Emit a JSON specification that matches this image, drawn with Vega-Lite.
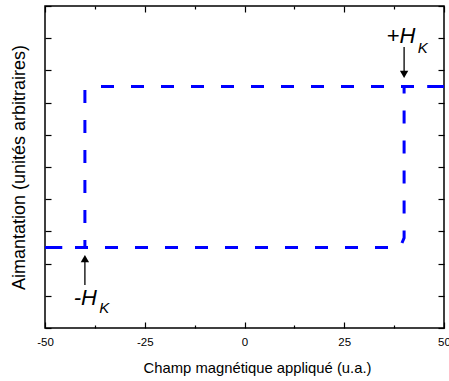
{
  "$schema": "https://vega.github.io/schema/vega-lite/v6.json",
  "width": 399,
  "height": 322,
  "autosize": {"type": "none"},
  "padding": {"left": 45, "top": 6, "right": 5, "bottom": 53},
  "background": "white",
  "config": {
    "view": {"stroke": "black", "strokeWidth": 1.5},
    "font": "Liberation Sans",
    "axis": {"grid": false, "domain": false, "tickColor": "black", "tickWidth": 1.2, "labelColor": "black", "titleColor": "black", "labelFont": "Liberation Sans", "titleFont": "Liberation Sans", "titleFontWeight": "normal"}
  },
  "datasets": {
    "loop": [
      {"branch": "descending", "order": 1, "H": 50, "M": 7.5},
      {"branch": "descending", "order": 2, "H": -37.5, "M": 7.5},
      {"branch": "descending", "order": 3, "H": -40, "M": 7.4},
      {"branch": "descending", "order": 4, "H": -40, "M": 2.5},
      {"branch": "descending", "order": 5, "H": -50, "M": 2.5},
      {"branch": "ascending", "order": 1, "H": -50, "M": 2.5},
      {"branch": "ascending", "order": 2, "H": 39, "M": 2.5},
      {"branch": "ascending", "order": 3, "H": 40, "M": 2.8},
      {"branch": "ascending", "order": 4, "H": 40, "M": 7.5},
      {"branch": "ascending", "order": 5, "H": 50, "M": 7.5}
    ],
    "arrows": [
      {"H": 40, "from": 8.73, "to": 7.95, "head": 7.875, "shape": "triangle-down"},
      {"H": -40, "from": 1.335, "to": 2.05, "head": 2.155, "shape": "triangle-up"}
    ],
    "main": [
      {"H": 35.6, "M": 8.85, "t": "+H"},
      {"H": -42.8, "M": 0.714, "t": "-H"}
    ],
    "sub": [
      {"H": 43.4, "M": 8.55, "t": "K"},
      {"H": -36.4, "M": 0.46, "t": "K"}
    ]
  },
  "resolve": {"axis": {"x": "independent", "y": "independent"}},
  "layer": [
    {
      "data": {"name": "loop"},
      "mark": {"type": "line", "color": "#0000ff", "strokeWidth": 3, "strokeDash": [13, 17], "strokeCap": "butt"},
      "encoding": {
        "x": {"field": "H", "type": "quantitative", "scale": {"domain": [-50, 50], "nice": false, "zero": false},
          "axis": {"orient": "bottom", "values": [-50, -37.5, -25, -12.5, 0, 12.5, 25, 37.5, 50],
            "tickSize": {"condition": {"test": "datum.value % 25 === 0", "value": -6}, "value": -3},
            "labelExpr": "datum.value % 25 === 0 ? ('' + datum.value) : ''",
            "labelFontSize": 11.5, "labelPadding": 14, "labelFlush": false,
            "title": "Champ magnétique appliqué (u.a.)", "titleFontSize": 14.8, "titlePadding": 13, "titleX": 212, "titleAlign": "center"}},
        "y": {"field": "M", "type": "quantitative", "scale": {"domain": [0, 10], "nice": false, "zero": false},
          "axis": {"orient": "left", "values": [0, 1, 2, 3, 4, 5, 6, 7, 8, 9, 10], "tickSize": -6, "labels": false,
            "title": "Aimantation (unités arbitraires)", "titleFontSize": 18, "titlePadding": 16}},
        "detail": {"field": "branch"},
        "order": {"field": "order"}
      }
    },
    {
      "data": {"name": "arrows"},
      "mark": {"type": "rule", "color": "black", "strokeWidth": 1.3},
      "encoding": {
        "x": {"field": "H", "type": "quantitative",
          "axis": {"orient": "top", "values": [-50, -37.5, -25, -12.5, 0, 12.5, 25, 37.5, 50],
            "tickSize": {"condition": {"test": "datum.value % 25 === 0", "value": -6}, "value": -3},
            "labels": false, "title": null}},
        "y": {"field": "from", "type": "quantitative",
          "axis": {"orient": "right", "values": [0, 1, 2, 3, 4, 5, 6, 7, 8, 9, 10], "tickSize": -6, "labels": false, "title": null}},
        "y2": {"field": "to"}
      }
    },
    {
      "data": {"name": "arrows"},
      "mark": {"type": "point", "filled": true, "color": "black", "size": 70, "opacity": 1},
      "encoding": {
        "x": {"field": "H", "type": "quantitative", "axis": null},
        "y": {"field": "head", "type": "quantitative", "axis": null},
        "shape": {"field": "shape", "type": "nominal", "scale": null}
      }
    },
    {
      "data": {"name": "main"},
      "mark": {"type": "text", "fontSize": 22, "fontStyle": "italic", "align": "left", "baseline": "alphabetic", "color": "black"},
      "encoding": {
        "x": {"field": "H", "type": "quantitative", "axis": null},
        "y": {"field": "M", "type": "quantitative", "axis": null},
        "text": {"field": "t"}
      }
    },
    {
      "data": {"name": "sub"},
      "mark": {"type": "text", "fontSize": 15, "fontStyle": "italic", "align": "left", "baseline": "alphabetic", "color": "black"},
      "encoding": {
        "x": {"field": "H", "type": "quantitative", "axis": null},
        "y": {"field": "M", "type": "quantitative", "axis": null},
        "text": {"field": "t"}
      }
    }
  ]
}
